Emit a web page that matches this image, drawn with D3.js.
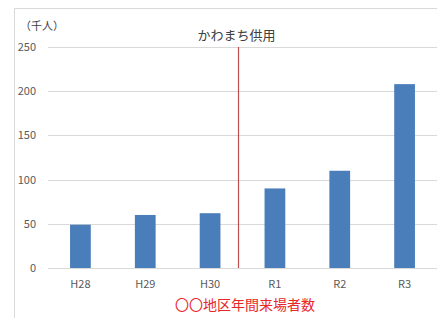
<!DOCTYPE html>
<html>
<head>
<meta charset="utf-8">
<script src="https://cdn.jsdelivr.net/npm/d3@7"></script>
<style>
  body { margin: 0; background: #fff; }
  svg text { font-family: "Noto Sans CJK JP", "Noto Sans", sans-serif; }
</style>
</head>
<body>
<div id="chart"></div>
<script>
// data
var years = ["H28", "H29", "H30", "R1", "R2", "R3"];
var visitors = [49, 60, 62, 90, 110, 208];
var yTicks = [0, 50, 100, 150, 200, 250];
var markerAfter = "H30";   // opening of the kawamachi area
var markerLabel = "かわまち供用";
var unitLabel = "（千人）";
var chartTitle = "〇〇地区年間来場者数";

var W = 437, H = 318;
var margin = {top: 47, right: 0, bottom: 50, left: 48};

var svg = d3.select("#chart").append("svg")
  .attr("width", W)
  .attr("height", H);

// frame (only top and left show in the crop)
svg.append("path")
  .attr("d", "M14.5," + H + "V8.5H" + W)
  .attr("fill", "none")
  .attr("stroke", "#d9d9d9");

var x = d3.scaleBand()
  .domain(years)
  .range([margin.left, W - margin.right])
  .paddingInner(0.68)
  .paddingOuter(0.34);

var y = d3.scaleLinear()
  .domain([0, 250])
  .range([H - margin.bottom, margin.top]);

// gridlines
svg.append("g").selectAll("line")
  .data(yTicks)
  .enter().append("line")
  .attr("x1", margin.left)
  .attr("x2", W - margin.right)
  .attr("y1", d => Math.round(y(d)) + 0.5)
  .attr("y2", d => Math.round(y(d)) + 0.5)
  .attr("stroke", "#d9d9d9")
  .attr("stroke-width", 1);

// y axis labels
var yAxis = d3.axisLeft(y).tickValues(yTicks).tickSize(0).tickPadding(12);
svg.append("g")
  .attr("transform", "translate(" + margin.left + ",0)")
  .call(yAxis)
  .call(g => g.select(".domain").remove())
  .selectAll("text")
  .style("font-size", "11px")
  .attr("fill", "#595959");

// bars
svg.append("g").selectAll("rect")
  .data(visitors)
  .enter().append("rect")
  .attr("x", (d, i) => x(years[i]))
  .attr("y", d => y(d))
  .attr("width", x.bandwidth())
  .attr("height", d => y(0) - y(d))
  .attr("fill", "#4a7ebb");

// x axis labels
var xAxis = d3.axisBottom(x).tickSize(0).tickPadding(12);
svg.append("g")
  .attr("transform", "translate(0," + y(0) + ")")
  .call(xAxis)
  .call(g => g.select(".domain").remove())
  .selectAll("text")
  .style("font-size", "11px")
  .attr("fill", "#595959");

// red marker line between H30 and R1
var i0 = years.indexOf(markerAfter);
var mx = (x(years[i0]) + x(years[i0 + 1]) + x.bandwidth()) / 2 - 4;
svg.append("line")
  .attr("x1", mx).attr("x2", mx)
  .attr("y1", y(250)).attr("y2", y(0))
  .attr("stroke", "#c0504d")
  .attr("stroke-width", 1.2);

svg.append("text")
  .attr("x", mx - 2)
  .attr("y", 40)
  .attr("text-anchor", "middle")
  .style("font-size", "13px")
  .attr("fill", "#404040")
  .text(markerLabel);

svg.append("text")
  .attr("x", 20)
  .attr("y", 30)
  .style("font-size", "11px")
  .attr("fill", "#404040")
  .text(unitLabel);

svg.append("text")
  .attr("x", 245)
  .attr("y", 310)
  .attr("text-anchor", "middle")
  .style("font-size", "14px")
  .attr("fill", "#e8262a")
  .text(chartTitle);
</script>
</body>
</html>
